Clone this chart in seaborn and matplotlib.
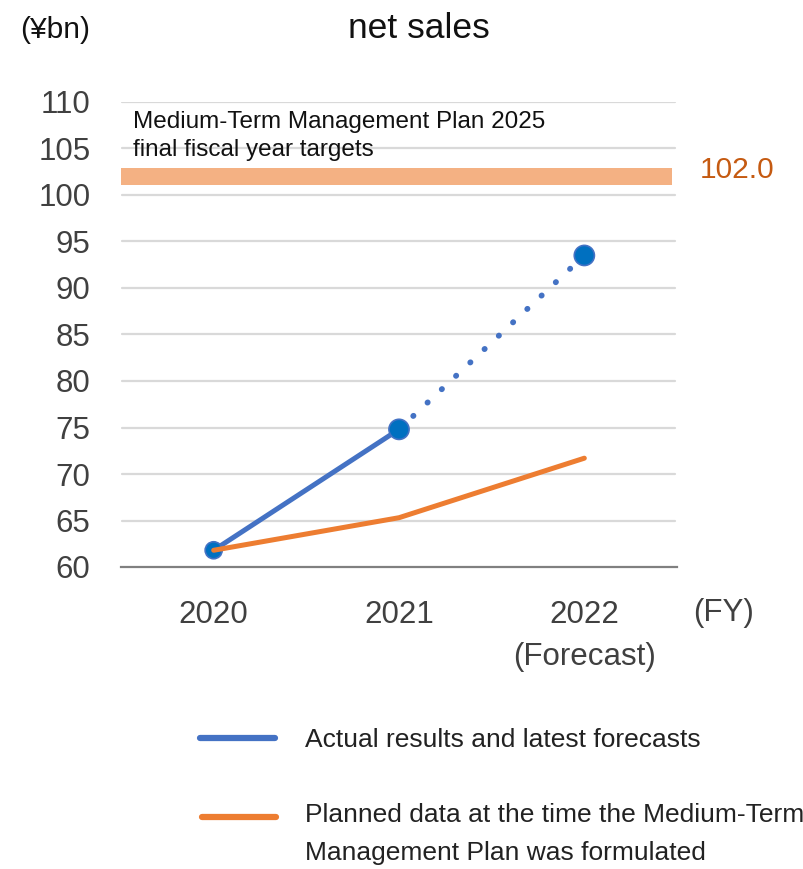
import numpy as np
import pandas as pd
import matplotlib
matplotlib.use("Agg")
import matplotlib.pyplot as plt
from matplotlib.lines import Line2D
import seaborn as sns

# ---- data ----
categories = ["2020", "2021", "2022\n(Forecast)"]
actual = [61.8, 74.8, 93.5]          # actual results and latest forecasts
planned = [61.8, 65.3, 71.7]         # planned data (Medium-Term Management Plan)
target = [102.0]                     # MTMP 2025 final fiscal year target
y_ticks = [60, 65, 70, 75, 80, 85, 90, 95, 100, 105, 110]
legend_labels = ["Actual results and latest forecasts",
                 "Planned data at the time the Medium-Term\nManagement Plan was formulated"]

sns.set_theme(style="white")
FONT = ["Liberation Sans", "DejaVu Sans"]
plt.rcParams["font.family"] = FONT

BLUE_LINE = "#4472C4"
BLUE_MARK = "#0070C0"
ORANGE = "#ED7D31"
BAND = "#F4B183"
TXT = "#404040"

fig = plt.figure(figsize=(8.04, 8.69), dpi=100)
ax = fig.add_axes([121 / 804, 1 - 567 / 869, (677 - 121) / 804, (567 - 102) / 869])

x = np.arange(len(categories))
df = pd.DataFrame({"x": x, "actual": actual, "planned": planned})

# gridlines
for v in y_ticks[1:]:
    ax.axhline(v, xmin=0.002, xmax=0.996, color="#D9D9D9", lw=1.6, zorder=0)

# target band
t = target[0]
ax.axhspan(t - 0.9, t + 0.9, xmin=0.0, xmax=0.991, color=BAND, lw=0, zorder=1)

# actual: solid part (2020-2021) and dotted forecast (2021-2022)
sns.lineplot(data=df.iloc[:2], x="x", y="actual", ax=ax, color=BLUE_LINE,
             lw=3.6, zorder=3, solid_capstyle="round")
sns.lineplot(data=df.iloc[1:], x="x", y="actual", ax=ax, color=BLUE_LINE,
             lw=4.2, zorder=3, linestyle=(0, (0.05, 3.3)), dash_capstyle="round")
sns.scatterplot(data=df, x="x", y="actual", ax=ax, color=BLUE_MARK,
                size=[1.0, 1.25, 1.25], sizes=(150, 210), legend=False,
                edgecolor=BLUE_LINE, linewidth=1.2, zorder=4)
# planned
sns.lineplot(data=df, x="x", y="planned", ax=ax, color=ORANGE, lw=3.6,
             zorder=5, solid_capstyle="round")

ax.set_xlim(-0.5, 2.5)
ax.set_ylim(60, 110)
ax.set_xlabel("")
ax.set_ylabel("")

# axes styling
for s in ["left", "right", "top"]:
    ax.spines[s].set_visible(False)
ax.spines["bottom"].set_color("#808080")
ax.spines["bottom"].set_linewidth(1.6)

ax.set_yticks(y_ticks)
ax.set_yticklabels([str(v) for v in y_ticks])
ax.tick_params(axis="y", length=0, pad=22, labelsize=22.5, labelcolor=TXT)

ax.set_xticks([-0.5, 0.5, 1.5, 2.5])
ax.set_xticklabels([])
ax.tick_params(axis="x", which="major", direction="in", length=11, width=1.6,
               color="#808080")
ax.set_xticks(x, minor=True)
ax.set_xticklabels(categories, minor=True)
ax.tick_params(axis="x", which="minor", length=0, pad=24, labelsize=22.5,
               labelcolor=TXT)
for lab in ax.get_xticklabels(minor=True):
    lab.set_linespacing(1.5)

# annotation texts
ax.text(-0.435, 109.0, "Medium-Term Management Plan 2025\nfinal fiscal year targets",
        fontsize=17.5, color="#111111", va="top", ha="left", linespacing=1.35,
        zorder=6)
fig.text(700 / 804, 1 - 170 / 869, f"{t:.1f}", fontsize=21.5, color="#C55A11",
         ha="left", va="center")

fig.text(419 / 804, 1 - 28 / 869, "net sales", fontsize=25.5, color="#111111",
         ha="center", va="center")
fig.text(20 / 804, 1 - 30 / 869, "(¥bn)", fontsize=21.5, color="#111111",
         ha="left", va="center")
fig.text(693 / 804, 1 - 613 / 869, "(FY)", fontsize=22.5, color=TXT,
         ha="left", va="center")

# legend (manual)
fig.add_artist(Line2D([200 / 804, 275 / 804], [1 - 738 / 869] * 2, color=BLUE_LINE,
                      lw=4.5, transform=fig.transFigure))
fig.add_artist(Line2D([202 / 804, 276 / 804], [1 - 817 / 869] * 2, color=ORANGE,
                      lw=4.5, transform=fig.transFigure))
fig.text(305 / 804, 1 - 740 / 869, legend_labels[0], fontsize=19, color="#222222",
         ha="left", va="center")
fig.text(305 / 804, 1 - 803 / 869, legend_labels[1], fontsize=19, color="#222222",
         ha="left", va="top", linespacing=1.75)

fig.savefig("out.png", dpi=100)
